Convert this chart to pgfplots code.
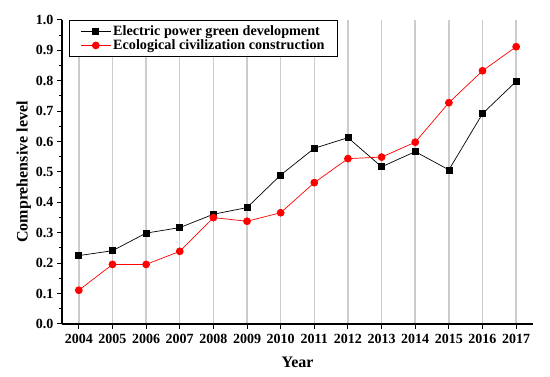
\documentclass[border=0pt]{standalone}
\usepackage{pgfplots}
\pgfplotsset{compat=1.18}
\usepackage{fontspec}
\setmainfont{Liberation Serif}
\begin{document}
\begin{tikzpicture}[x=1pt,y=1pt]
\begin{axis}[
  at={(0,0)}, anchor=south west,
  scale only axis, width=471pt, height=304pt,
  xmin=2003.5, xmax=2017.5, ymin=0, ymax=1.0,
  axis x line*=bottom, axis y line*=left,
  axis line style={-, line width=1.3pt, black},
  xtick={2004,...,2017}, minor x tick num=1,
  ytick={0,0.1,...,1.0}, minor y tick num=1,
  tick align=outside,
  major tick length=5pt, minor tick length=3pt,
  tick style={line width=1pt, black},
  xmajorgrids, grid style={line width=1.5pt, gray!40},
  /pgf/number format/assume math mode=true,
  x tick label style={font=\fontsize{14}{16}\selectfont\bfseries, /pgf/number format/1000 sep={}},
  y tick label style={font=\fontsize{14}{16}\selectfont\bfseries, /pgf/number format/fixed, /pgf/number format/fixed zerofill, /pgf/number format/precision=1},
  xticklabel style={yshift=-2pt},
  xlabel={Year}, ylabel={Comprehensive level},
  xlabel style={yshift=-6pt},
  ylabel style={yshift=-2pt},
  label style={font=\fontsize{16}{18}\selectfont\bfseries},
  legend style={at={(rel axis cs:0.015,1)}, anchor=north west, draw=black, line width=0.8pt,
    font=\fontsize{14.2}{17}\selectfont\bfseries, fill=white, row sep=-1pt, inner xsep=11pt, inner ysep=3pt},
  legend cell align=left,
  legend image code/.code={\draw[#1, mark repeat=2, mark phase=2] plot coordinates {(0pt,0pt) (15pt,0pt) (30pt,0pt)};},
]
\addplot[black, line width=0.7pt, mark=square*, mark size=3pt, mark options={solid, fill=black}] coordinates {
(2004,0.225) (2005,0.241) (2006,0.299) (2007,0.317) (2008,0.361) (2009,0.383)
(2010,0.490) (2011,0.578) (2012,0.613) (2013,0.517) (2014,0.567) (2015,0.507)
(2016,0.692) (2017,0.798)};
\addlegendentry{Electric power green development}
\addplot[red, line width=0.7pt, mark=*, mark size=3.5pt, mark options={solid, fill=red, draw=red}] coordinates {
(2004,0.111) (2005,0.196) (2006,0.196) (2007,0.239) (2008,0.350) (2009,0.338)
(2010,0.366) (2011,0.465) (2012,0.544) (2013,0.549) (2014,0.598) (2015,0.728)
(2016,0.833) (2017,0.912)};
\addlegendentry{Ecological civilization construction}
\end{axis}
\pgfresetboundingbox
\path (-62,-53) rectangle (488,324);
\end{tikzpicture}
\end{document}
